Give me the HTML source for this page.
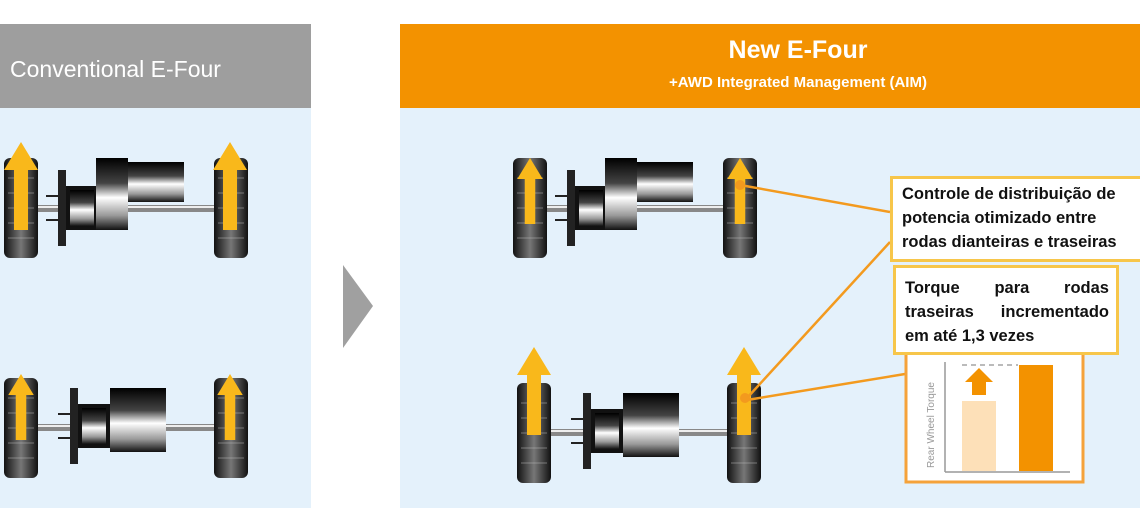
<!DOCTYPE html>
<html><head><meta charset="utf-8"><style>
body{margin:0;width:1140px;height:530px;background:#fff;overflow:hidden;position:relative;font-family:"Liberation Sans",sans-serif}
.box{position:absolute;background:#fff;box-sizing:border-box;font-weight:bold;font-size:16.5px;line-height:24px;color:#111}
</style></head><body>
<svg width="1140" height="530" style="position:absolute;left:0;top:0">
<defs>
<linearGradient id="tire" x1="0" x2="1"><stop offset="0" stop-color="#111"/><stop offset=".5" stop-color="#777"/><stop offset="1" stop-color="#111"/></linearGradient>
<linearGradient id="met" x1="0" y1="0" x2="0" y2="1"><stop offset="0" stop-color="#000"/><stop offset=".35" stop-color="#444"/><stop offset=".55" stop-color="#fff"/><stop offset=".8" stop-color="#999"/><stop offset="1" stop-color="#111"/></linearGradient>
<g id="wheel"><rect x="0" y="0" width="34" height="100" rx="6" fill="url(#tire)"/><g stroke="#bbb" stroke-width="1" opacity=".5"><line x1="4" y1="20" x2="30" y2="20"/><line x1="4" y1="35" x2="30" y2="35"/><line x1="4" y1="50" x2="30" y2="50"/><line x1="4" y1="65" x2="30" y2="65"/><line x1="4" y1="80" x2="30" y2="80"/></g></g>
<g id="gear"><rect x="0" y="12" width="8" height="76" fill="#222"/><rect x="8" y="28" width="32" height="44" fill="#111"/><rect x="12" y="32" width="24" height="36" fill="url(#met)"/><line x1="-12" y1="38" x2="8" y2="38" stroke="#222" stroke-width="2"/><line x1="-12" y1="62" x2="8" y2="62" stroke="#222" stroke-width="2"/></g>
<g id="front"><rect x="30" y="47" width="184" height="7" fill="#888"/><rect x="30" y="48" width="184" height="2" fill="#eee"/><use href="#wheel"/><use href="#wheel" x="210"/><use href="#gear" x="54" y="0"/><rect x="92" y="0" width="32" height="72" fill="url(#met)"/><rect x="124" y="4" width="56" height="40" fill="url(#met)"/></g>
<g id="rear"><rect x="30" y="46" width="184" height="7" fill="#888"/><rect x="30" y="47" width="184" height="2" fill="#eee"/><use href="#wheel"/><use href="#wheel" x="210"/><use href="#gear" x="66" y="-2"/><rect x="106" y="10" width="56" height="64" fill="url(#met)"/></g>
<g id="arr"><polygon points="-7,0 -7,-60 -17,-60 0,-88 17,-60 7,-60 7,0" fill="#f9b81b"/></g>
</defs>
<rect x="0" y="24" width="311" height="84" fill="#9e9e9e"/>
<rect x="0" y="108" width="311" height="400" fill="#e4f1fb"/>
<rect x="400" y="24" width="740" height="84" fill="#f39200"/>
<rect x="400" y="108" width="740" height="400" fill="#e4f1fb"/>
<polygon points="343,265 373,306 343,348" fill="#a0a0a0"/>
<use href="#front" x="4" y="158"/>
<use href="#arr" x="21" y="230"/><use href="#arr" x="230" y="230"/>
<use href="#rear" x="4" y="378"/>
<use href="#arr" transform="translate(21,440) scale(.75)"/><use href="#arr" transform="translate(230,440) scale(.75)"/>
<use href="#front" x="513" y="158"/>
<use href="#arr" transform="translate(530,224) scale(.75)"/><use href="#arr" transform="translate(740,224) scale(.75)"/>
<use href="#rear" x="517" y="383"/>
<use href="#arr" x="534" y="435"/><use href="#arr" x="744" y="435"/>
<g stroke="#f39a1e" stroke-width="2.5" fill="none">
<line x1="740" y1="185" x2="890" y2="212"/>
<line x1="747" y1="398" x2="890" y2="242"/>
<line x1="747" y1="400" x2="905" y2="374"/>
</g>
<circle cx="740" cy="185" r="5" fill="#f39a1e"/><circle cx="745" cy="398" r="5" fill="#f39a1e"/>
<rect x="906" y="352" width="177" height="130" fill="#fff" stroke="#f5a23a" stroke-width="3"/>
<line x1="945" y1="362" x2="945" y2="472" stroke="#999" stroke-width="1.5"/>
<line x1="945" y1="472" x2="1070" y2="472" stroke="#999" stroke-width="1.5"/>
<line x1="962" y1="365" x2="1018" y2="365" stroke="#bbb" stroke-width="2" stroke-dasharray="5,4"/>
<rect x="962" y="401" width="34" height="70" fill="#fde0b8"/>
<rect x="1019" y="365" width="34" height="106" fill="#f39200"/>
<polygon points="972,395 972,382 965,382 979,368 993,382 986,382 986,395" fill="#f39200"/>
<text x="0" y="0" transform="translate(934,468) rotate(-90)" font-size="10" fill="#999" font-family="Liberation Sans,sans-serif">Rear Wheel Torque</text>
<text x="10" y="77" font-size="23" fill="#fff" font-family="Liberation Sans,sans-serif">Conventional E-Four</text>
<text x="798" y="58" font-size="25" font-weight="bold" fill="#fff" text-anchor="middle" font-family="Liberation Sans,sans-serif">New E-Four</text>
<text x="798" y="87" font-size="15" font-weight="bold" fill="#fff" text-anchor="middle" font-family="Liberation Sans,sans-serif">+AWD Integrated Management (AIM)</text>
</svg>
<div class="box" style="left:890px;top:176px;width:255px;height:86px;border:3px solid #f7c64a;padding:3px 0 0 9px;white-space:nowrap">Controle de distribuição de<br>potencia otimizado entre<br>rodas dianteiras e traseiras</div>
<div class="box" style="left:893px;top:265px;width:226px;height:90px;border:3px solid #f7c64a;padding:8px 7px 0 9px;text-align:justify;text-align-last:left">Torque para rodas traseiras incrementado em até 1,3 vezes</div>
</body></html>
